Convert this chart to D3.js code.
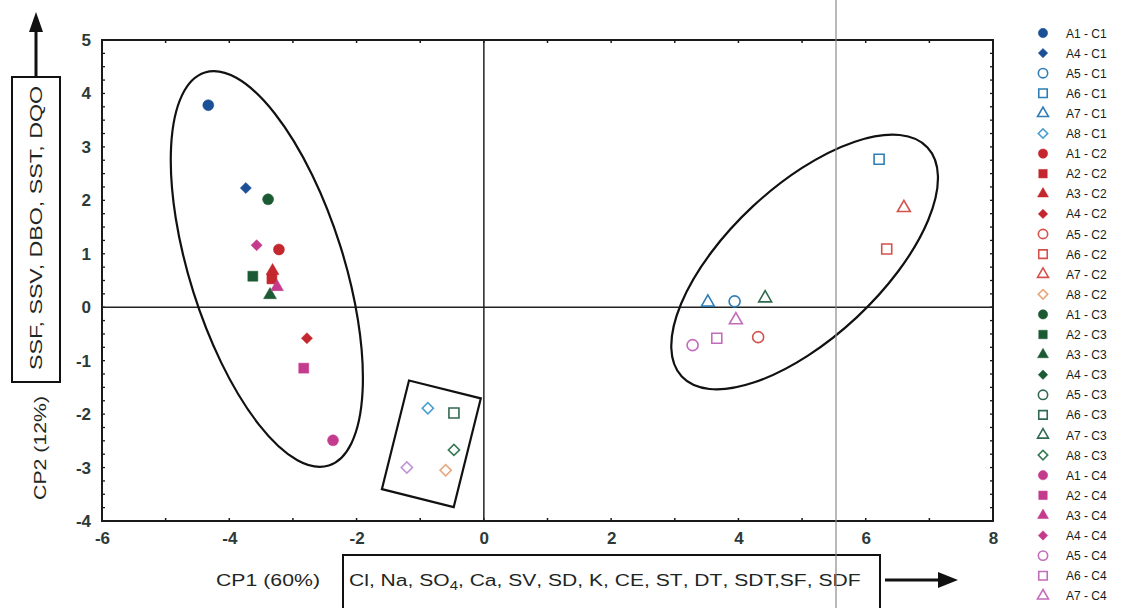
<!DOCTYPE html>
<html>
<head>
<meta charset="utf-8">
<script src="https://cdn.jsdelivr.net/npm/d3@7/dist/d3.min.js"></script>
<style>
  html, body { margin: 0; padding: 0; background: #ffffff; }
  svg { display: block; }
</style>
</head>
<body>
<svg id="chart" width="1126" height="608"></svg>
<script>
// ---- PCA scores: sample (A) per campaign (C) ----
const sampleLabels = [
  "A1 - C1", "A4 - C1", "A5 - C1", "A6 - C1", "A7 - C1", "A8 - C1",
  "A1 - C2", "A2 - C2", "A3 - C2", "A4 - C2", "A5 - C2", "A6 - C2", "A7 - C2", "A8 - C2",
  "A1 - C3", "A2 - C3", "A3 - C3", "A4 - C3", "A5 - C3", "A6 - C3", "A7 - C3", "A8 - C3",
  "A1 - C4", "A2 - C4", "A3 - C4", "A4 - C4", "A5 - C4", "A6 - C4", "A7 - C4", "A8 - C4"
];
const cp1Scores = [
  -4.33, -3.74, 3.94, 6.21, 3.52, -0.88,
  -3.22, -3.33, -3.32, -2.78, 4.31, 6.33, 6.60, -0.60,
  -3.39, -3.63, -3.36, null, null, -0.47, 4.42, -0.47,
  -2.37, -2.83, -3.25, -3.57, 3.28, 3.66, 3.96, -1.21
];
const cp2Scores = [
  3.78, 2.23, 0.11, 2.77, 0.09, -1.89,
  1.08, 0.53, 0.68, -0.58, -0.56, 1.09, 1.86, -3.05,
  2.02, 0.58, 0.23, null, null, -1.98, 0.17, -2.67,
  -2.49, -1.14, 0.38, 1.16, -0.71, -0.58, -0.24, -3.00
];

// ---- axes ----
const xDomain = [-6, 8];
const yDomain = [-4, 5];
const xTickValues = [-6, -4, -2, 0, 2, 4, 6, 8];
const yTickValues = [-4, -3, -2, -1, 0, 1, 2, 3, 4, 5];
const xAxisTitle = "CP1 (60%)";
const yAxisTitle = "CP2 (12%)";
const cp1Variables = ["Cl", "Na", "SO|4", "Ca", "SV", "SD", "K", "CE", "ST", "DT", "SDT,SF", "SDF"];
const cp2Variables = ["SSF", "SSV", "DBO", "SST", "DQO"];

// ---- group outlines (centres in score units) ----
const groupEllipses = [
  { cx: -3.41, cy: 0.715, rx: 77, ry: 206, angle: -17.5 },
  { cx: 5.04, cy: 0.846, rx: 168, ry: 76, angle: -43 }
];
const groupBoxes = [
  { cx: -0.825, cy: -2.555, w: 74, h: 112, angle: 14 }
];

// ---- styles ----
const campaignColors = {
  C1: { solid: "#1b4f96", open: "#2f7db4" },
  C2: { solid: "#c4272d", open: "#d4524c" },
  C3: { solid: "#1c5a33", open: "#2f6a50" },
  C4: { solid: "#c43b8d", open: "#c26cbc" }
};
const diamondColors = { C1: "#4a9fd0", C2: "#e6a77c", C3: "#357852", C4: "#bf93d6" };
const sampleShapes = {
  A1: ["circle", true], A2: ["square", true], A3: ["triangle", true], A4: ["diamond", true],
  A5: ["circle", false], A6: ["square", false], A7: ["triangle", false], A8: ["diamond", false]
};

const W = 1126, H = 608;
const plot = { left: 102, right: 993, top: 40, bottom: 521 };
const textColor = "#2c3a38";

const svg = d3.select("#chart");
svg.append("rect").attr("width", W).attr("height", H).attr("fill", "#fff");

const x = d3.scaleLinear().domain(xDomain).range([plot.left, plot.right]);
const y = d3.scaleLinear().domain(yDomain).range([plot.bottom, plot.top]);

const points = sampleLabels.map((label, i) => {
  const [a, c] = label.split(" - ");
  return { label, a, c, cp1: cp1Scores[i], cp2: cp2Scores[i] };
});

function symbolPath(shape, size) {
  const type = shape === "circle" ? d3.symbolCircle
    : shape === "square" ? d3.symbolSquare
    : shape === "triangle" ? d3.symbolTriangle
    : d3.symbolSquare;
  return d3.symbol().type(type).size(size)();
}
function styleOf(p) {
  const [shape, filled] = sampleShapes[p.a];
  const col = shape === "diamond" && !filled ? diamondColors[p.c]
    : filled ? campaignColors[p.c].solid : campaignColors[p.c].open;
  return { shape, filled, col };
}
function drawMarker(g, p, scale) {
  const s = styleOf(p);
  const sizes = { circle: 95, square: 100, triangle: 72, diamond: 62 };
  const path = g.append("path")
    .attr("d", symbolPath(s.shape, sizes[s.shape] * scale))
    .attr("fill", s.filled ? s.col : "#fff")
    .attr("stroke", s.col)
    .attr("stroke-width", s.filled ? 0.5 : 1.6);
  if (s.shape === "diamond") path.attr("transform", "rotate(45)");
  return path;
}

// ---- frame, minor ticks ----
const axisColor = "#1a1a1a";
const frame = svg.append("g");
frame.append("rect")
  .attr("x", plot.left).attr("y", plot.top)
  .attr("width", plot.right - plot.left).attr("height", plot.bottom - plot.top)
  .attr("fill", "none").attr("stroke", axisColor).attr("stroke-width", 2);

const xMinor = d3.range(xDomain[0] + 1, xDomain[1], 1);
const yMinor = d3.range(yDomain[0] + 0.25, yDomain[1], 0.25);
frame.selectAll(".xtb").data(xMinor).join("line")
  .attr("x1", d => x(d)).attr("x2", d => x(d))
  .attr("y1", plot.bottom).attr("y2", plot.bottom - 3)
  .attr("stroke", axisColor).attr("stroke-width", 1.5);
frame.selectAll(".xtt").data(xMinor).join("line")
  .attr("x1", d => x(d)).attr("x2", d => x(d))
  .attr("y1", plot.top).attr("y2", plot.top + 3)
  .attr("stroke", axisColor).attr("stroke-width", 1.5);
frame.selectAll(".ytl").data(yMinor).join("line")
  .attr("x1", plot.left).attr("x2", plot.left + 3)
  .attr("y1", d => y(d)).attr("y2", d => y(d))
  .attr("stroke", axisColor).attr("stroke-width", 1.3);
frame.selectAll(".ytr").data(yMinor).join("line")
  .attr("x1", plot.right).attr("x2", plot.right - 3)
  .attr("y1", d => y(d)).attr("y2", d => y(d))
  .attr("stroke", axisColor).attr("stroke-width", 1.3);

// zero lines
svg.append("line")
  .attr("x1", plot.left).attr("x2", plot.right)
  .attr("y1", y(0)).attr("y2", y(0))
  .attr("stroke", "#222").attr("stroke-width", 1.5);
svg.append("line")
  .attr("x1", x(0)).attr("x2", x(0))
  .attr("y1", plot.top).attr("y2", plot.bottom)
  .attr("stroke", "#222").attr("stroke-width", 1.5);

// ---- tick labels (plain hyphen for negatives) ----
const tickText = d => String(d);
const xAxis = d3.axisBottom(x).tickValues(xTickValues).tickSize(0).tickPadding(0)
  .tickFormat(tickText);
const xg = svg.append("g").attr("transform", `translate(0,${plot.bottom + 11})`).call(xAxis);
xg.select(".domain").remove();
xg.selectAll("text")
  .attr("font-family", "Liberation Sans, Arial, sans-serif")
  .attr("font-size", 17).attr("font-weight", "bold").attr("fill", textColor)
  .attr("dy", "0.71em");

const yAxis = d3.axisLeft(y).tickValues(yTickValues).tickSize(0).tickPadding(0)
  .tickFormat(tickText);
const yg = svg.append("g").attr("transform", `translate(${plot.left - 11},0)`).call(yAxis);
yg.select(".domain").remove();
yg.selectAll("text")
  .attr("font-family", "Liberation Sans, Arial, sans-serif")
  .attr("font-size", 17).attr("font-weight", "bold").attr("fill", textColor)
  .attr("dy", "0.32em");

// ---- group outlines ----
const outlines = svg.append("g").attr("fill", "none").attr("stroke", "#111").attr("stroke-width", 2.2);
outlines.selectAll("ellipse").data(groupEllipses).join("ellipse")
  .attr("transform", d => `translate(${x(d.cx)},${y(d.cy)}) rotate(${d.angle})`)
  .attr("rx", d => d.rx).attr("ry", d => d.ry);
outlines.selectAll("rect").data(groupBoxes).join("rect")
  .attr("transform", d => `translate(${x(d.cx)},${y(d.cy)}) rotate(${d.angle})`)
  .attr("x", d => -d.w / 2).attr("y", d => -d.h / 2)
  .attr("width", d => d.w).attr("height", d => d.h);

// ---- score points ----
const ptsG = svg.append("g");
points.filter(p => p.cp1 !== null && p.cp2 !== null).forEach(p => {
  const g = ptsG.append("g").attr("transform", `translate(${x(p.cp1)},${y(p.cp2)})`);
  drawMarker(g, p, 1);
});

// ---- legend (rows that fit on the sheet) ----
const legendTop = 33, rowH = 20.1;
const legend = svg.append("g").attr("transform", `translate(1043,${legendTop})`);
points.forEach((p, i) => {
  if (legendTop + i * rowH + 6 > H) return;
  const row = legend.append("g").attr("transform", `translate(0,${i * rowH})`);
  drawMarker(row, p, 0.72);
  row.append("text").attr("x", 23).attr("y", 4.5)
    .attr("font-family", "Liberation Sans, Arial, sans-serif")
    .attr("font-size", 12).attr("fill", "#151b1a")
    .text(p.label);
});

// ---- axis titles ----
const condensed = "Liberation Sans Narrow, Arial Narrow, Liberation Sans, Arial, sans-serif";
function fitX(sel, x0, width) {
  const w = sel.node().getComputedTextLength();
  const k = width / w;
  sel.attr("transform", `translate(${x0},0) scale(${k},1)`);
}

// horizontal title
const xt = svg.append("text").attr("y", 586)
  .attr("font-family", condensed).attr("font-size", 17).attr("fill", "#1e2624")
  .text(xAxisTitle);
fitX(xt, 216, 104);

svg.append("rect").attr("x", 343).attr("y", 555).attr("width", 537).attr("height", 70)
  .attr("fill", "none").attr("stroke", "#111").attr("stroke-width", 2);

const vt = svg.append("text").attr("y", 586)
  .attr("font-family", condensed).attr("font-size", 17).attr("fill", "#1e2624");
cp1Variables.forEach((v, i) => {
  const [base, sub] = v.split("|");
  vt.append("tspan").text(base);
  if (sub) vt.append("tspan").attr("font-size", 12).attr("dy", 4).text(sub);
  const sep = i < cp1Variables.length - 1 ? ", " : "";
  if (sep) vt.append("tspan").attr("dy", sub ? -4 : null).text(sep);
});
fitX(vt, 349, 503);

// horizontal arrow
svg.append("line").attr("x1", 885).attr("x2", 942).attr("y1", 580).attr("y2", 580)
  .attr("stroke", "#111").attr("stroke-width", 3);
svg.append("path").attr("d", "M958,580 L938,572 L938,588 Z").attr("fill", "#111");

// vertical title
svg.append("text")
  .attr("transform", "translate(46,448) rotate(-90)")
  .attr("text-anchor", "middle")
  .attr("font-family", "Liberation Sans, Arial, sans-serif")
  .attr("font-size", 17).attr("fill", "#1e2624")
  .attr("textLength", 104).attr("lengthAdjust", "spacingAndGlyphs")
  .text(yAxisTitle);

svg.append("rect").attr("x", 12).attr("y", 77).attr("width", 48).attr("height", 305)
  .attr("fill", "none").attr("stroke", "#111").attr("stroke-width", 2);
svg.append("text")
  .attr("transform", "translate(42,228) rotate(-90)")
  .attr("text-anchor", "middle")
  .attr("font-family", "Liberation Sans, Arial, sans-serif")
  .attr("font-size", 17).attr("fill", "#1e2624")
  .attr("textLength", 284).attr("lengthAdjust", "spacingAndGlyphs")
  .text(cp2Variables.join(", "));

// vertical arrow
svg.append("line").attr("x1", 36).attr("x2", 36).attr("y1", 77).attr("y2", 28)
  .attr("stroke", "#111").attr("stroke-width", 3);
svg.append("path").attr("d", "M36,12 L29,32 L43,32 Z").attr("fill", "#111");

// thin vertical rule across the sheet
svg.append("line").attr("x1", 836).attr("x2", 836).attr("y1", 0).attr("y2", H)
  .attr("stroke", "#8a8a8a").attr("stroke-width", 1.2);
</script>
</body>
</html>
